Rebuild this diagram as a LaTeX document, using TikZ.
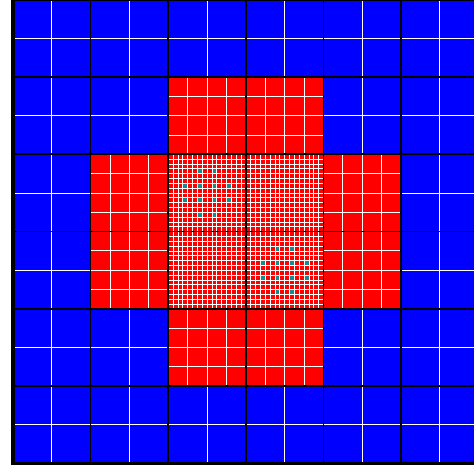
\documentclass[tikz,border=0pt]{standalone}
\definecolor{gblue}{RGB}{0,0,255}
\definecolor{gred}{RGB}{255,0,0}
\definecolor{gteal}{RGB}{20,140,140}
\begin{document}
\begin{tikzpicture}[
  coarseline/.style={black, line width=1.7pt},
  cellline/.style={white, line width=0.9pt},
  fineline/.style={white, line width=0.6pt},
  tealcell/.style={fill=gteal}
]
\useasboundingbox (0,0) rectangle (474pt,467pt);
\clip (0,0) rectangle (474pt,467pt);
\fill[white] (0,0) rectangle (474pt,467pt);
\begin{scope}[xshift=13pt,yshift=3.5pt,x=77.6pt,y=77.3pt]
  % level 0: blue blocks, 2x2 cells
  \foreach \i in {0,...,5} \foreach \j in {0,...,5} {
    \fill[gblue] (\i,\j) rectangle (\i+1,\j+1);
    \draw[cellline] (\i+0.5,\j) -- (\i+0.5,\j+1) (\i,\j+0.5) -- (\i+1,\j+0.5);
  }
  % level 1: red blocks, 4x4 cells
  \foreach \i/\j in {2/4,3/4,1/3,4/3,1/2,4/2,2/1,3/1} {
    \fill[gred] (\i,\j) rectangle (\i+1,\j+1);
    \foreach \k in {1,2,3} {
      \draw[cellline] (\i+\k/4,\j) -- (\i+\k/4,\j+1) (\i,\j+\k/4) -- (\i+1,\j+\k/4);
    }
  }
  % level 2: centre blocks, 16x16 cells
  \foreach \i/\j in {2/3,3/3,2/2,3/2} {
    \fill[gred] (\i,\j) rectangle (\i+1,\j+1);
  }
  \foreach \bi/\bj in {2/3,3/2} {
    \foreach \a/\b in {6/3,9/3,3/6,6/6,9/6,12/6,3/9,6/9,9/9,12/9,6/12,9/12} {
      \fill[tealcell] (\bi+\a/16,\bj+\b/16) rectangle (\bi+\a/16+1/16,\bj+\b/16+1/16);
    }
  }
  \foreach \i/\j in {2/3,3/3,2/2,3/2} {
    \foreach \k in {1,...,15} {
      \draw[fineline] (\i+\k/16,\j) -- (\i+\k/16,\j+1) (\i,\j+\k/16) -- (\i+1,\j+\k/16);
    }
  }
  % block boundaries
  \foreach \k in {1,...,5} {
    \draw[coarseline] (\k,0) -- (\k,6) (0,\k) -- (6,\k);
  }
  \draw[coarseline] (0,6) -- (6,6);
  % frame
  \draw[black, line width=3.2pt] (0,6) -- (0,0) -- (6,0);
\end{scope}
\end{tikzpicture}
\end{document}
